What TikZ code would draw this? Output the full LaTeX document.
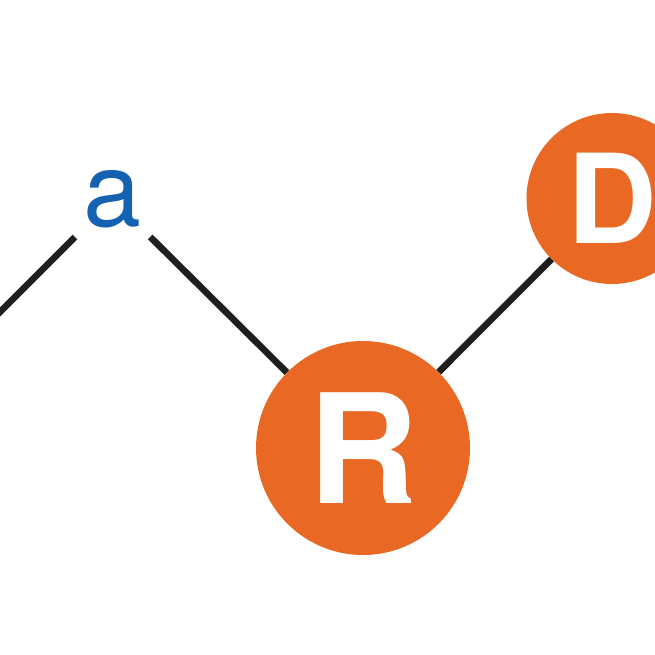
\documentclass[tikz,border=0pt]{standalone}
\usepackage{fontspec}
\setmainfont{TeX Gyre Heros}
\definecolor{atomorange}{RGB}{233,104,35}
\definecolor{labelblue}{RGB}{22,98,178}
\definecolor{bondgray}{RGB}{30,30,30}
\tikzset{
    bond/.style={draw=bondgray, line width=6.6pt},
    atom/.style={circle, fill=atomorange, text=white, inner sep=0pt, font=\bfseries},
    vertex/.style={circle, inner sep=0pt, minimum size=106pt, text=labelblue},
    common settings/.style={x=1pt, y=-1pt}
}
\begin{document}
\begin{tikzpicture}[common settings]

    % Frame of the picture (pixel units, y down)
    \useasboundingbox (0,0) rectangle (655,655);
    \clip (0,0) rectangle (655,655);

    % 1. Chain vertex with its label
    \node[vertex, font=\fontsize{104}{104}\selectfont] (a) at (112.5,199.5) {a};
    \coordinate (w) at (-40,352);

    % 2. Atoms
    \node[atom, minimum size=214pt, font=\fontsize{152}{152}\selectfont\bfseries] (R) at (363,448) {R};
    \node[atom, minimum size=171pt, font=\fontsize{124}{124}\selectfont\bfseries] (D) at (612,198.5) {D};

    % 3. Bonds
    \draw[bond] (w) -- (a);
    \draw[bond] (a) -- (R);
    \draw[bond] (R) -- (D);

\end{tikzpicture}
\end{document}
